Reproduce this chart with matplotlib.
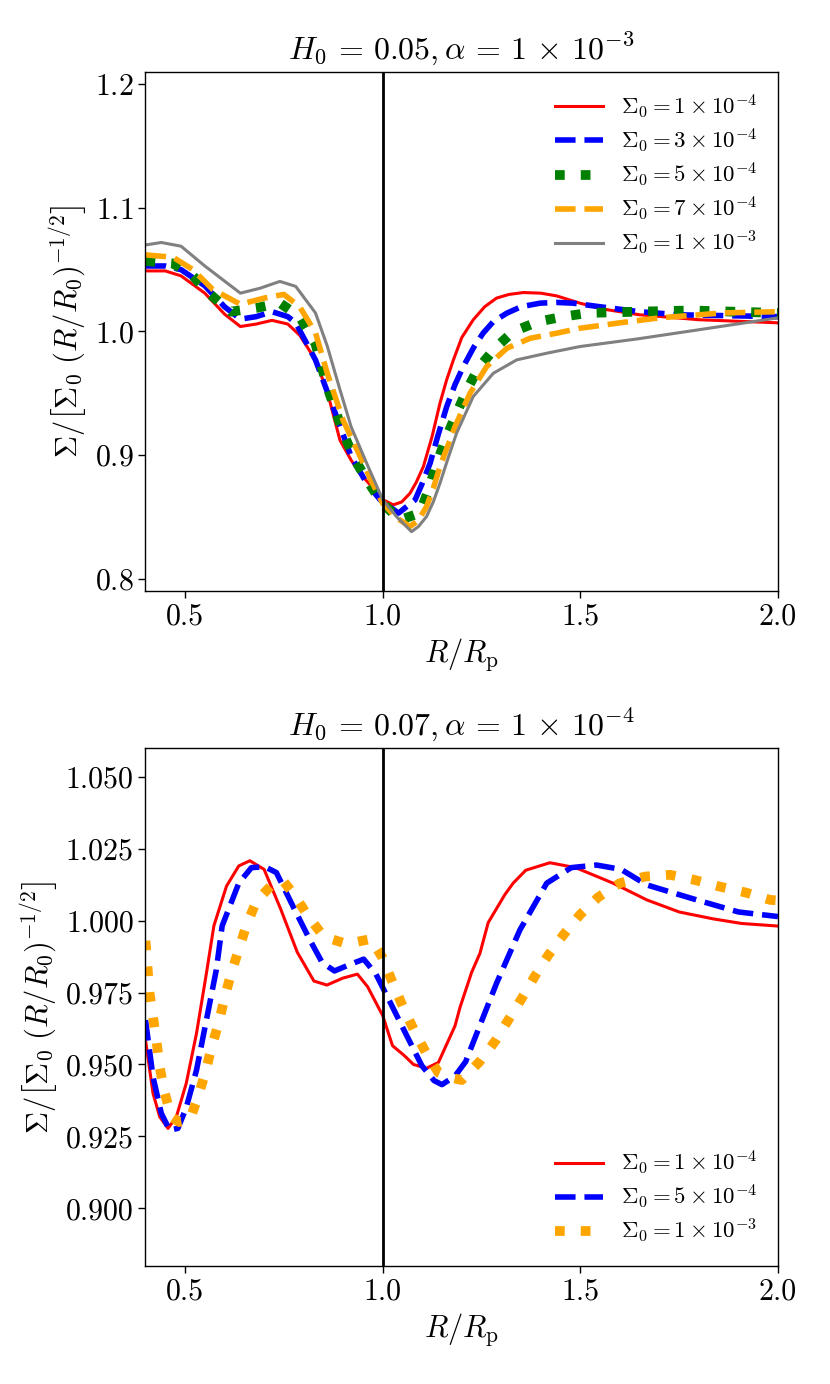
import matplotlib
matplotlib.use("Agg")
import matplotlib.pyplot as plt

plt.rcParams['mathtext.fontset'] = 'cm'
plt.rcParams['font.family'] = 'serif'
plt.rcParams['font.serif'] = ['cmr10', 'DejaVu Serif']
plt.rcParams['axes.formatter.use_mathtext'] = True

# ---- top panel: H0 = 0.05, alpha = 1e-3 ----
top_labels = [r'$\Sigma_0 = 1 \times 10^{-4}$', r'$\Sigma_0 = 3 \times 10^{-4}$',
              r'$\Sigma_0 = 5 \times 10^{-4}$', r'$\Sigma_0 = 7 \times 10^{-4}$',
              r'$\Sigma_0 = 1 \times 10^{-3}$']

top_r_1e4 = [0.40, 0.45, 0.49, 0.55, 0.60, 0.64, 0.68, 0.72, 0.76, 0.79, 0.82, 0.84, 0.865, 0.892, 0.92,
             0.943, 0.968, 0.993, 1.027, 1.048, 1.069, 1.085, 1.103, 1.125, 1.145, 1.162, 1.179, 1.20, 1.229,
             1.258, 1.288, 1.32, 1.356, 1.40, 1.44, 1.499, 1.56, 1.65, 1.80, 2.00]
top_s_1e4 = [1.049, 1.049, 1.045, 1.031, 1.014, 1.004, 1.006, 1.009, 1.006, 0.997, 0.982, 0.969, 0.945, 0.912, 0.896,
             0.885, 0.876, 0.865, 0.8597, 0.862, 0.869, 0.878, 0.8907, 0.915, 0.942, 0.961, 0.977, 0.995, 1.0094,
             1.020, 1.027, 1.030, 1.0315, 1.031, 1.0288, 1.0229, 1.018, 1.0135, 1.0095, 1.007]

top_r_3e4 = [0.40, 0.45, 0.49, 0.55, 0.60, 0.64, 0.68, 0.72, 0.76, 0.78, 0.83, 0.88, 0.92, 0.96, 0.993,
             1.04, 1.082, 1.10, 1.12, 1.14, 1.162, 1.183, 1.204, 1.23, 1.254, 1.28, 1.314, 1.35, 1.398,
             1.44, 1.482, 1.55, 1.65, 1.75, 2.00]
top_s_3e4 = [1.053, 1.053, 1.050, 1.037, 1.020, 1.010, 1.012, 1.016, 1.012, 1.007, 0.977, 0.934, 0.899, 0.877, 0.864,
             0.853, 0.8637, 0.877, 0.8934, 0.916, 0.9392, 0.957, 0.9716, 0.987, 0.9986, 1.008, 1.0148, 1.020, 1.0229,
             1.0235, 1.0229, 1.020, 1.016, 1.0135, 1.012]

top_r_5e4 = [0.40, 0.47, 0.52, 0.56, 0.615, 0.68, 0.74, 0.79, 0.83, 0.86, 0.90, 0.93, 0.96, 0.997, 1.044,
             1.094, 1.115, 1.137, 1.162, 1.187, 1.213, 1.242, 1.284, 1.33, 1.394, 1.457, 1.52, 1.645, 1.78, 2.00]
top_s_5e4 = [1.057, 1.055, 1.045, 1.031, 1.016, 1.019, 1.023, 1.012, 0.990, 0.955, 0.918, 0.896, 0.880, 0.8617, 0.8475,
             0.853, 0.871, 0.8934, 0.915, 0.9339, 0.9527, 0.9703, 0.9864, 0.9999, 1.008, 1.012, 1.015, 1.016, 1.017, 1.015]

top_r_7e4 = [0.40, 0.47, 0.52, 0.57, 0.64, 0.70, 0.75, 0.79, 0.83, 0.86, 0.90, 0.94, 0.97, 1.00, 1.036,
             1.069, 1.09, 1.111, 1.128, 1.145, 1.183, 1.221, 1.263, 1.314, 1.373, 1.44, 1.499, 1.60, 1.70,
             1.86, 2.00]
top_s_7e4 = [1.062, 1.060, 1.050, 1.034, 1.022, 1.027, 1.030, 1.020, 0.999, 0.966, 0.928, 0.901, 0.880, 0.861, 0.849,
             0.8422, 0.847, 0.8583, 0.873, 0.8907, 0.923, 0.950, 0.9716, 0.9864, 0.9945, 0.9986, 1.0026, 1.007, 1.011,
             1.015, 1.016]

top_r_1e3 = [0.40, 0.44, 0.49, 0.55, 0.64, 0.69, 0.74, 0.78, 0.83, 0.86, 0.89, 0.92, 0.96, 1.00, 1.035,
             1.073, 1.09, 1.111, 1.128, 1.145, 1.165, 1.187, 1.229, 1.28, 1.339, 1.415, 1.499, 1.645, 1.80, 2.00]
top_s_1e3 = [1.070, 1.072, 1.069, 1.053, 1.031, 1.035, 1.0405, 1.0365, 1.015, 0.988, 0.955, 0.923, 0.893, 0.864, 0.8502,
             0.838, 0.842, 0.8502, 0.862, 0.8772, 0.897, 0.9177, 0.9473, 0.9662, 0.977, 0.9824, 0.9878, 0.994, 1.0014, 1.011]

# ---- bottom panel: H0 = 0.07, alpha = 1e-4 ----
bot_labels = [r'$\Sigma_0 = 1 \times 10^{-4}$', r'$\Sigma_0 = 5 \times 10^{-4}$',
              r'$\Sigma_0 = 1 \times 10^{-3}$']

bot_r_1e4 = [0.40, 0.419, 0.436, 0.457, 0.478, 0.503, 0.529, 0.554, 0.573, 0.605, 0.636, 0.664, 0.70, 0.742,
             0.784, 0.826, 0.859, 0.899, 0.936, 0.962, 1.00, 1.025, 1.053, 1.078, 1.111, 1.141, 1.183, 1.196,
             1.225, 1.246, 1.267, 1.309, 1.33, 1.362, 1.423, 1.488, 1.583, 1.668, 1.75, 1.836, 1.908, 2.00]
bot_s_1e4 = [0.9585, 0.940, 0.9318, 0.9278, 0.9318, 0.9434, 0.9608, 0.9816, 0.9982, 1.012, 1.019, 1.0208, 1.0178, 1.004,
             0.989, 0.979, 0.9776, 0.980, 0.9814, 0.977, 0.967, 0.9565, 0.9533, 0.950, 0.9487, 0.9507, 0.9634, 0.970,
             0.982, 0.9886, 0.9993, 1.009, 1.013, 1.0175, 1.0201, 1.0184, 1.013, 1.0072, 1.003, 1.0006, 0.999, 0.9981]

bot_r_5e4 = [0.40, 0.419, 0.44, 0.461, 0.482, 0.503, 0.529, 0.554, 0.579, 0.594, 0.636, 0.668, 0.702, 0.731,
             0.773, 0.815, 0.847, 0.878, 0.92, 0.952, 0.983, 1.015, 1.057, 1.099, 1.13, 1.15, 1.183, 1.21,
             1.238, 1.288, 1.347, 1.415, 1.477, 1.541, 1.603, 1.668, 1.794, 1.90, 2.00]
bot_s_5e4 = [0.9654, 0.9457, 0.933, 0.9272, 0.9278, 0.935, 0.948, 0.9654, 0.9828, 0.9982, 1.013, 1.0184, 1.0187, 1.0167,
             1.005, 0.9935, 0.9854, 0.9825, 0.9849, 0.9866, 0.9814, 0.9727, 0.9611, 0.9496, 0.9444, 0.943, 0.946, 0.951,
             0.9608, 0.9782, 0.9967, 1.013, 1.0184, 1.0193, 1.0178, 1.0124, 1.0072, 1.003, 1.0014]

bot_r_1e3 = [0.40, 0.41, 0.419, 0.428, 0.436, 0.448, 0.465, 0.485, 0.512, 0.533, 0.552, 0.567, 0.586, 0.60,
             0.617, 0.637, 0.656, 0.681, 0.725, 0.75, 0.778, 0.812, 0.851, 0.909, 0.97, 1.00, 1.025, 1.052,
             1.078, 1.109, 1.141, 1.17, 1.20, 1.246, 1.284, 1.318, 1.352, 1.385, 1.419, 1.457, 1.499, 1.545,
             1.60, 1.664, 1.727, 1.79, 1.853, 1.92, 1.98, 2.00]
bot_s_1e3 = [0.993, 0.975, 0.9665, 0.9579, 0.949, 0.9405, 0.9318, 0.930, 0.9307, 0.9388, 0.9475, 0.956, 0.9648, 0.9733,
             0.9818, 0.9904, 0.9987, 1.0068, 1.0132, 1.0135, 1.0086, 1.0014, 0.9944, 0.9919, 0.9936, 0.987, 0.9785, 0.9698,
             0.9623, 0.9542, 0.9472, 0.9455, 0.9446, 0.9511, 0.958, 0.9655, 0.973, 0.9807, 0.988, 0.995, 1.002, 1.0081,
             1.013, 1.0153, 1.0159, 1.0141, 1.0118, 1.0097, 1.0072, 1.007]

ylabel = r'$\Sigma/\left[\Sigma_0\ (R/R_0)^{-1/2}\right]$'
xlabel = r'$R/R_{\rm p}$'
titles = [r'$H_0 \,=\, 0.05, \alpha \,=\, 1 \,\times\, 10^{-3}$',
          r'$H_0 \,=\, 0.07, \alpha \,=\, 1 \,\times\, 10^{-4}$']

fig = plt.figure(figsize=(8.3, 13.84), dpi=100)
ax1 = fig.add_axes([0.1753, 0.573, 0.762, 0.375])
ax2 = fig.add_axes([0.1753, 0.0853, 0.762, 0.3743])

ax1.plot(top_r_1e4, top_s_1e4, color='red', lw=2.2, ls='-', label=top_labels[0])
ax1.plot(top_r_3e4, top_s_3e4, color='blue', lw=4, ls='--', label=top_labels[1])
ax1.plot(top_r_5e4, top_s_5e4, color='green', lw=7, ls=':', label=top_labels[2])
ax1.plot(top_r_7e4, top_s_7e4, color='orange', lw=4, ls='--', label=top_labels[3])
ax1.plot(top_r_1e3, top_s_1e3, color='gray', lw=2.2, ls='-', label=top_labels[4])
ax1.axvline(1.0, color='black', lw=2)
ax1.set_xlim(0.4, 2.0)
ax1.set_ylim(0.79, 1.21)
ax1.set_yticks([0.8, 0.9, 1.0, 1.1, 1.2])
ax1.set_title(titles[0], fontsize=23, pad=10)
ax1.legend(loc='upper right', frameon=False, fontsize=16.5, labelspacing=0.26, handlelength=2.1)

ax2.plot(bot_r_1e4, bot_s_1e4, color='red', lw=2.2, ls='-', label=bot_labels[0])
ax2.plot(bot_r_5e4, bot_s_5e4, color='blue', lw=4, ls='--', label=bot_labels[1])
ax2.plot(bot_r_1e3, bot_s_1e3, color='orange', lw=7, ls=':', label=bot_labels[2])
ax2.axvline(1.0, color='black', lw=2)
ax2.set_xlim(0.4, 2.0)
ax2.set_ylim(0.88, 1.06)
ax2.set_yticks([0.900, 0.925, 0.950, 0.975, 1.000, 1.025, 1.050])
ax2.set_yticklabels(['0.900', '0.925', '0.950', '0.975', '1.000', '1.025', '1.050'])
ax2.set_title(titles[1], fontsize=23, pad=10)
ax2.legend(loc='lower right', frameon=False, fontsize=16.5, labelspacing=0.26, handlelength=2.1)

for ax in (ax1, ax2):
    ax.set_xticks([0.5, 1.0, 1.5, 2.0])
    ax.set_xticklabels(['0.5', '1.0', '1.5', '2.0'])
    ax.set_xlabel(xlabel, fontsize=22)
    ax.set_ylabel(ylabel, fontsize=22)
    ax.tick_params(labelsize=21.5, width=1.0, length=5)
    for sp in ax.spines.values():
        sp.set_linewidth(1.0)

fig.savefig('out.png', dpi=100)
